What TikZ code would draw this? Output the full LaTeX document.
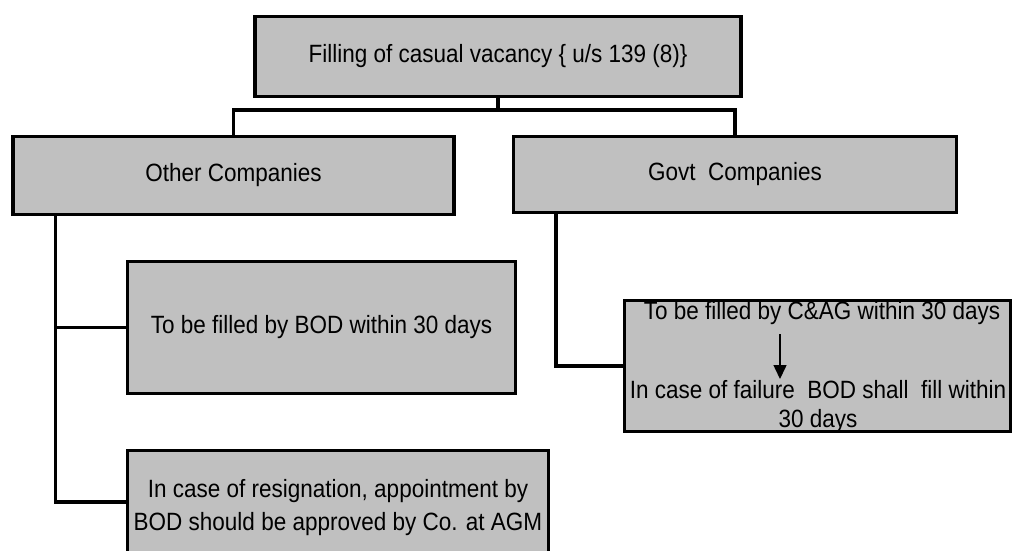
\documentclass[tikz,border=0pt]{standalone}
\usepackage{fontspec}
\setmainfont{Liberation Sans}[FakeStretch=0.9]
\usetikzlibrary{arrows.meta,calc}
\definecolor{boxgray}{HTML}{C0C0C0}
\begin{document}
\begin{tikzpicture}[x=1pt,y=-1pt,
  box/.style={draw=black,fill=boxgray,line width=3.5pt,inner sep=0pt,align=center,
    font=\fontsize{25}{29}\selectfont},
  conn/.style={line width=3.5pt,draw=black},
  txt/.style={inner sep=0pt,align=center,font=\fontsize{25}{29}\selectfont}]
\useasboundingbox (0,0) rectangle (1014,550);

\node[box,minimum width=486pt,minimum height=80pt] (top) at (498,56.5)
  {Filling of casual vacancy \{ u/s 139 (8)\}};
\node[box,minimum width=441pt,minimum height=78pt] (other) at (233.5,175.5)
  {Other Companies};
\node[box,minimum width=443pt,minimum height=76pt] (govt) at (735,174.5)
  {Govt\ \ Companies};
\node[box,minimum width=388pt,minimum height=132pt] (bod) at (321.5,327.5)
  {To be filled by BOD within 30 days};
\node[box,minimum width=421pt,minimum height=103pt] (resign) at (338,502) {};
\node[txt,anchor=base,font=\fontsize{25}{33}\selectfont] (resignT) at (338,530)
  {In case of resignation, appointment by\\BOD should be approved by Co. at AGM};
\node[box,minimum width=386pt,minimum height=131pt] (cag) at (817.5,366) {};
\node[txt,anchor=base] (cagA) at (822,319) {To be filled by C\&AG within 30 days};
\node[txt,anchor=north] (cagB) at (818,380)
  {In case of failure\ \ BOD shall\ \ fill within\\30 days};
\draw[-{Triangle[width=13pt,length=14pt]},line width=1.5pt,shorten <=10pt,shorten >=1pt]
  ([xshift=-42pt]cagA.south) -- ([xshift=-38pt]cagB.north);

\coordinate (j) at (498,110);
\draw[conn] (top.south) -- (j);
\draw[conn] (other.north) |- (j) -| (govt.north);
\coordinate (lt) at ($(other.south west)+(44,0)$);
\draw[conn] (lt) |- (resign.west);
\draw[conn] (lt |- bod.west) -- (bod.west);
\coordinate (gt) at ($(govt.south west)+(44,0)$);
\draw[conn] (gt) |- (cag.west);
\end{tikzpicture}
\end{document}
